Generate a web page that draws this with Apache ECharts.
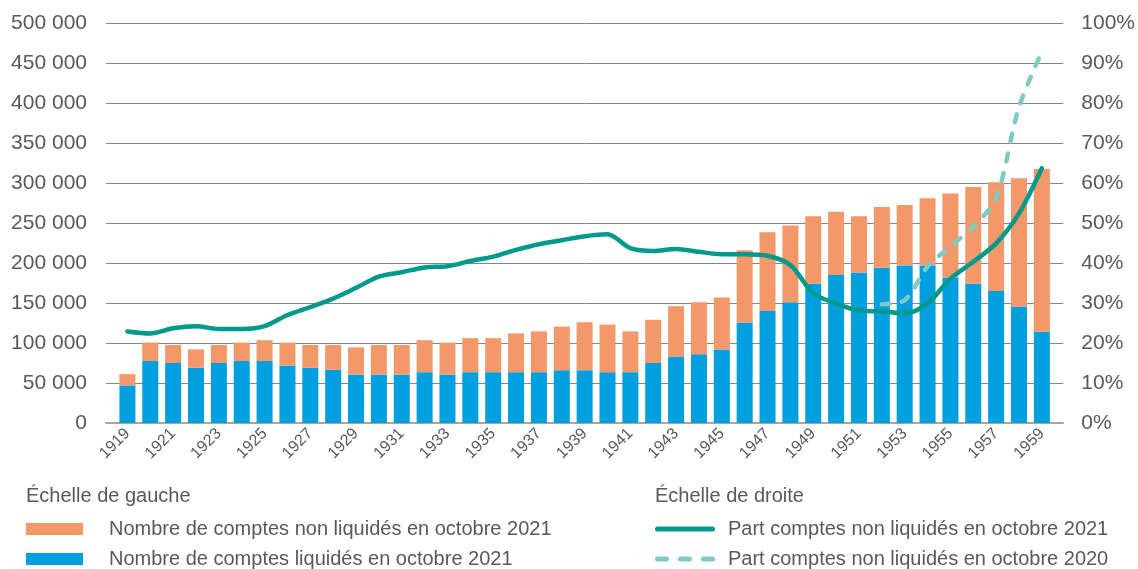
<!DOCTYPE html>
<html>
<head>
<meta charset="utf-8">
<script src="https://cdn.jsdelivr.net/npm/echarts@6/dist/echarts.min.js"></script>
<style>html,body{margin:0;padding:0;background:#fff}#c{width:1138px;height:569px}</style>
</head>
<body>
<div id="c"></div>
<script>
const years = ['1919','1920','1921','1922','1923','1924','1925','1926','1927','1928','1929','1930','1931','1932','1933','1934','1935','1936','1937','1938','1939','1940','1941','1942','1943','1944','1945','1946','1947','1948','1949','1950','1951','1952','1953','1954','1955','1956','1957','1958','1959'];
const liquidated = [47000,77500,75000,69000,75000,77500,77500,72000,69000,66500,60500,60500,60500,63500,60500,63500,63500,63500,63500,66000,66000,63500,63500,75000,83000,86000,92000,125500,140000,151000,174000,185000,188000,194000,197000,197000,182000,174000,165000,145500,114000];
const nonLiquidated = [14000,23000,22500,23000,22500,23000,26000,28500,28500,31000,34000,37000,37000,40000,40000,42500,42500,48500,51000,54500,60000,59500,51000,54000,63000,65000,65000,90500,98500,96000,84500,79000,70500,76000,75500,84000,105000,121000,136000,160500,203500];
const share2021 = [22.9,22.4,23.7,24.2,23.5,23.5,24.2,27.0,29.0,31.1,33.8,36.6,37.7,38.9,39.2,40.5,41.6,43.3,44.7,45.7,46.7,47.2,43.7,43.0,43.5,42.8,42.2,42.2,41.8,39.5,32.4,29.9,28.1,27.9,27.4,29.9,36.1,40.3,44.9,52.4,63.7];
const share2020 = [null,null,null,null,null,null,null,null,null,null,null,null,null,null,null,null,null,null,null,null,null,null,null,null,null,null,null,null,null,null,null,null,null,29.7,30.7,39.1,44.1,49.1,56.2,79.0,92.8];
const leftTicks = {min:0, max:500000, interval:50000};
const rightTicks = {min:0, max:100, interval:10};

const names = {
  non: 'Nombre de comptes non liquidés en octobre 2021',
  liq: 'Nombre de comptes liquidés en octobre 2021',
  s21: 'Part comptes non liquidés en octobre 2021',
  s20: 'Part comptes non liquidés en octobre 2020'
};
const FONT = 'Liberation Sans, Arial, sans-serif';
const TXT = '#595959';
const solidIcon = 'path://M2.5,0H57.5A2.5,2.5 0 0 1 57.5,5H2.5A2.5,2.5 0 0 1 2.5,0Z';
const dashIcon = 'path://M2.5,0H11.5A2.5,2.5 0 0 1 11.5,5H2.5A2.5,2.5 0 0 1 2.5,0Z M25.5,0H34.5A2.5,2.5 0 0 1 34.5,5H25.5A2.5,2.5 0 0 1 25.5,0Z M48.5,0H57.5A2.5,2.5 0 0 1 57.5,5H48.5A2.5,2.5 0 0 1 48.5,0Z';
const chart = echarts.init(document.getElementById('c'), null, {renderer:'canvas'});
chart.setOption({
  animation: false,
  textStyle: {fontFamily: FONT},
  title: [
    {text:'Échelle de gauche', left:26, top:486, padding:0, textStyle:{fontSize:20, fontWeight:'normal', color:TXT, fontFamily:FONT}},
    {text:'Échelle de droite', left:655, top:486, padding:0, textStyle:{fontSize:20, fontWeight:'normal', color:TXT, fontFamily:FONT}}
  ],
  legend: [
    {data:[names.non, names.liq], orient:'vertical', left:26, top:519, padding:0, itemGap:10, itemWidth:57, itemHeight:12, icon:'rect',
     textStyle:{fontSize:20, color:TXT, fontFamily:FONT, padding:[0,0,0,21]}},
    {data:[{name:names.s21, icon:solidIcon}, {name:names.s20, icon:dashIcon}], orient:'vertical', left:655, top:519, padding:0, itemGap:10, itemWidth:60, itemHeight:5,
     textStyle:{fontSize:20, color:TXT, fontFamily:FONT, padding:[0,0,0,8]}}
  ],
  grid: [
    {left:116, right:82, top:23, bottom:146},
    {left:106, right:75, top:23, bottom:146}
  ],
  xAxis: [
    {type:'category', gridIndex:0, data:years, axisLine:{show:false}, axisTick:{show:false},
     axisLabel:{interval:1, rotate:45, fontSize:16, color:TXT, margin:8, fontFamily:FONT}},
    {type:'value', gridIndex:1, min:0, max:1, axisLabel:{show:false}, axisTick:{show:false}, splitLine:{show:false},
     axisLine:{show:true, lineStyle:{color:'#a6a6a6', width:2}}}
  ],
  yAxis: [
    {type:'value', gridIndex:0, position:'left', min:leftTicks.min, max:leftTicks.max, interval:leftTicks.interval,
     splitLine:{show:false}, axisLine:{show:false}, axisTick:{show:false},
     axisLabel:{fontSize:21, color:TXT, margin:29, fontFamily:FONT, formatter: v => v === 0 ? '0' : (v/1000) + ' 000'}},
    {type:'value', gridIndex:0, position:'right', min:rightTicks.min, max:rightTicks.max, interval:rightTicks.interval,
     splitLine:{show:false}, axisLine:{show:false}, axisTick:{show:false},
     axisLabel:{fontSize:21, color:TXT, margin:28, fontFamily:FONT, formatter:'{value}%'}},
    {type:'value', gridIndex:1, min:leftTicks.min, max:leftTicks.max, interval:leftTicks.interval,
     axisLabel:{show:false}, axisLine:{show:false}, axisTick:{show:false},
     splitLine:{show:true, lineStyle:{color:'#858585', width:1}}}
  ],
  series: [
    {name:names.liq, type:'bar', stack:'a', xAxisIndex:0, yAxisIndex:0, data:liquidated, barWidth:16,
     itemStyle:{color:'#009FE0'}},
    {name:names.non, type:'bar', stack:'a', xAxisIndex:0, yAxisIndex:0, data:nonLiquidated, barWidth:16,
     itemStyle:{color:'#F39869'}},
    {name:names.s21, type:'line', xAxisIndex:0, yAxisIndex:1, data:share2021, symbol:'none', smooth:0.3,
     itemStyle:{color:'#009A8C'}, lineStyle:{color:'#009A8C', width:4.5, cap:'round'}, z:5},
    {name:names.s20, type:'line', xAxisIndex:0, yAxisIndex:1, data:share2020, symbol:'none', smooth:0.3,
     itemStyle:{color:'#7CCBC4'}, lineStyle:{color:'#7CCBC4', width:4.5, type:[8,12], cap:'round'}, z:4}
  ]
});
</script>
</body>
</html>
